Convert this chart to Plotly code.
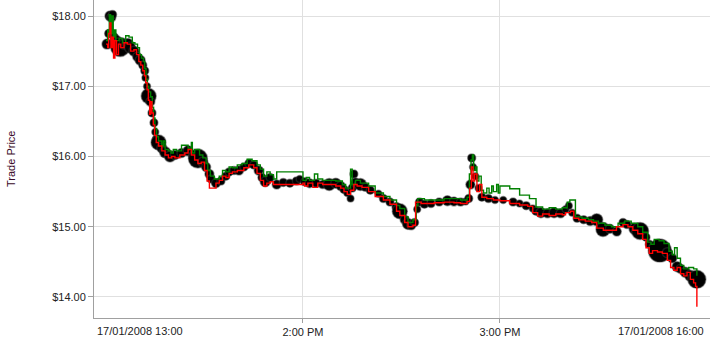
import pandas as pd
import plotly.graph_objects as go

# ---- data (minutes after 13:00 on 17/01/2008, price in $) ----
trade_min = [0.3, 0.8, 1.2, 1.6, 2.0, 2.5, 3.0, 4.3, 5.5, 6.7, 7.3, 8.5, 9.5, 10.4, 11.2, 11.8,
             12.0, 12.5, 13.0, 13.5, 14.0, 14.6, 15.0, 15.4, 16.0, 17.0, 18.0, 19.5, 21.0, 23.0,
             25.0, 27.0, 28.0, 29.5, 30.5, 31.5, 32.0, 33.5, 35.0, 36.5, 37.5, 39.0, 40.5, 42.0,
             43.5, 45.0, 46.5, 47.5, 48.5, 50.0, 52.0, 54.0, 56.0, 58.0, 59.0, 60.5, 62.0, 64.0,
             66.0, 68.0, 70.0, 71.5, 72.5, 73.5, 74.5, 75.0, 75.5, 76.0, 77.5, 79.0, 80.5, 83.0,
             84.5, 86.5, 88.5, 89.5, 91.0, 92.0, 93.0, 94.0, 94.8, 95.5, 97.0, 99.0, 101.5, 104.0,
             106.0, 108.0, 109.5, 110.5, 111.0, 111.4, 111.8, 112.5, 113.5, 114.5, 116.5, 118.5,
             121.0, 124.0, 126.0, 128.0, 130.0, 131.0, 132.5, 134.5, 136.5, 138.5, 140.0, 141.0,
             142.0, 143.5, 145.5, 147.5, 149.5, 151.4, 153.5, 155.6, 157.5, 158.7, 161.0, 162.7,
             164.5, 165.5, 167.0, 168.7, 171.0, 172.5, 174.0, 175.0, 176.5, 178.0, 180.0]
trade_price = [17.60, 17.75, 18.00, 17.98, 18.02, 17.70, 17.65, 17.56, 17.60, 17.60, 17.55, 17.50,
               17.42, 17.37, 17.30, 17.22, 17.12, 17.00, 16.86, 16.78, 16.62, 16.48, 16.35, 16.25,
               16.20, 16.12, 16.06, 16.00, 16.02, 16.05, 16.08, 16.00, 15.97, 15.92, 15.85, 15.75,
               15.68, 15.62, 15.65, 15.72, 15.78, 15.80, 15.80, 15.85, 15.90, 15.88, 15.80, 15.70,
               15.64, 15.70, 15.60, 15.63, 15.62, 15.65, 15.68, 15.64, 15.62, 15.62, 15.60, 15.60,
               15.62, 15.58, 15.53, 15.48, 15.40, 15.55, 15.75, 15.63, 15.60, 15.56, 15.52, 15.47,
               15.40, 15.35, 15.28, 15.22, 15.10, 15.04, 15.02, 15.06, 15.25, 15.35, 15.32, 15.33,
               15.35, 15.37, 15.36, 15.35, 15.36, 15.40, 15.60, 15.98, 15.85, 15.72, 15.55, 15.42,
               15.40, 15.38, 15.38, 15.35, 15.33, 15.30, 15.26, 15.22, 15.20, 15.19, 15.20, 15.19,
               15.25, 15.30, 15.20, 15.12, 15.10, 15.08, 15.10, 14.96, 14.97, 14.93, 15.06, 15.03,
               14.97, 14.94, 14.85, 14.75, 14.68, 14.66, 14.63, 14.55, 14.43, 14.40, 14.35, 14.30,
               14.25]
trade_size = [10, 8, 10, 9, 8, 8, 11, 19, 10, 11, 11, 10, 9, 10, 8, 8, 7, 7, 15, 9, 8, 8, 7, 8, 15,
              10, 11, 11, 9, 9, 10, 12, 19, 10, 9, 9, 8, 9, 8, 8, 8, 8, 9, 8, 8, 8, 9, 8, 10, 8, 9, 8,
              8, 8, 7, 8, 9, 8, 8, 12, 10, 9, 8, 7, 7, 8, 8, 9, 12, 8, 8, 7, 8, 8, 9, 15, 9, 11, 9, 8,
              7, 8, 8, 8, 8, 10, 9, 8, 7, 8, 9, 8, 7, 7, 7, 8, 8, 7, 7, 8, 7, 8, 7, 8, 10, 9, 10, 9, 7,
              7, 7, 8, 8, 9, 12, 14, 9, 9, 8, 8, 11, 17, 8, 8, 10, 23, 10, 9, 10, 9, 10, 11, 18]

ask_min = [0.0, 0.5, 0.8, 1.0, 1.4, 1.8, 2.2, 2.6, 3.0, 4.0, 5.0, 6.0, 7.0, 8.0, 8.8, 9.6, 10.2,
           10.8, 11.4, 11.8, 12.2, 12.6, 13.0, 13.6, 14.1, 14.5, 14.9, 15.4, 16.0, 17.0, 17.5, 18.0,
           19.0, 19.8, 20.5, 21.5, 23.0, 25.0, 26.0, 26.3, 27.0, 28.5, 29.5, 30.5, 31.0, 31.8, 33.0,
           34.5, 35.5, 36.5, 37.5, 38.5, 40.0, 41.5, 43.0, 44.5, 46.0, 47.0, 48.0, 49.0, 50.0, 51.0,
           52.0, 60.0, 61.0, 62.0, 63.5, 64.5, 66.0, 70.0, 72.0, 73.0, 74.5, 75.0, 76.0, 77.5, 80.0,
           82.0, 84.5, 86.5, 88.5, 89.5, 91.0, 92.0, 93.5, 94.5, 95.0, 97.0, 100.0, 103.0, 106.0,
           108.0, 110.0, 110.7, 111.2, 111.6, 112.0, 112.6, 113.0, 113.6, 114.3, 115.0, 116.0,
           116.7, 117.5, 118.0, 119.0, 119.5, 120.0, 123.0, 126.0, 129.0, 131.0, 133.0, 135.0,
           137.0, 139.0, 140.5, 141.3, 143.0, 145.0, 147.0, 148.5, 150.0, 152.0, 154.0, 156.0,
           158.0, 160.0, 162.0, 163.5, 165.0, 166.0, 167.0, 168.5, 170.0, 171.5, 172.5, 173.2,
           174.0, 175.0, 176.0, 177.5, 179.0, 180.0]
ask_price = [17.65, 17.80, 17.70, 18.02, 17.75, 18.00, 17.70, 17.80, 17.65, 17.68, 17.62, 17.72,
             17.70, 17.62, 17.60, 17.55, 17.45, 17.40, 17.35, 17.25, 17.10, 17.00, 16.92, 16.85,
             16.70, 16.55, 16.40, 16.28, 16.22, 16.15, 16.22, 16.10, 16.08, 16.05, 16.10, 16.08,
             16.16, 16.12, 16.20, 16.05, 16.10, 16.02, 15.98, 15.90, 15.80, 15.72, 15.68, 15.72,
             15.80, 15.78, 15.85, 15.84, 15.88, 15.90, 15.96, 15.94, 15.88, 15.82, 15.72, 15.78,
             15.74, 15.68, 15.78, 15.66, 15.70, 15.66, 15.75, 15.68, 15.66, 15.65, 15.60, 15.55,
             15.82, 15.60, 15.66, 15.62, 15.58, 15.48, 15.43, 15.38, 15.30, 15.26, 15.14, 15.06,
             15.10, 15.30, 15.40, 15.38, 15.38, 15.40, 15.40, 15.38, 15.42, 15.75, 15.95, 16.02,
             15.80, 15.85, 15.65, 15.72, 15.52, 15.48, 15.55, 15.48, 15.58, 15.50, 15.60, 15.48,
             15.58, 15.54, 15.45, 15.40, 15.28, 15.25, 15.27, 15.25, 15.27, 15.35, 15.38, 15.14,
             15.12, 15.10, 15.08, 15.05, 15.02, 15.00, 15.05, 15.08, 15.05, 15.00, 14.92, 14.78,
             14.75, 14.82, 14.80, 14.76, 14.65, 14.60, 14.70, 14.55, 14.45, 14.40, 14.42, 14.40,
             14.30]

bid_min = [0.0, 0.5, 0.8, 1.2, 1.5, 1.9, 2.3, 2.7, 3.2, 3.8, 4.5, 5.5, 6.5, 7.5, 8.5, 9.3, 10.0,
           10.6, 11.2, 11.7, 12.1, 12.5, 12.9, 13.3, 13.6, 14.0, 14.4, 14.8, 15.3, 16.0, 17.0, 18.0,
           19.0, 20.0, 21.0, 22.5, 24.0, 25.0, 26.0, 27.0, 28.0, 29.0, 30.0, 30.8, 31.5, 32.5, 33.5,
           34.5, 35.5, 36.5, 37.5, 38.5, 40.0, 42.0, 43.5, 45.0, 46.0, 47.0, 48.0, 49.0, 50.0, 51.0,
           60.0, 60.5, 61.5, 63.0, 64.5, 66.0, 70.0, 71.5, 72.5, 73.5, 74.5, 75.5, 76.5, 78.0, 80.0,
           82.0, 84.5, 86.5, 88.5, 89.5, 91.0, 92.0, 93.5, 94.3, 96.0, 100.0, 103.0, 106.0, 108.0,
           110.0, 110.8, 111.3, 111.8, 112.3, 113.0, 113.8, 114.5, 116.0, 118.0, 120.0, 123.0,
           126.0, 128.5, 130.0, 131.5, 133.0, 135.0, 137.0, 139.0, 140.0, 141.5, 142.5, 144.0,
           146.0, 148.0, 149.5, 151.5, 153.5, 155.5, 157.5, 159.0, 160.5, 162.0, 163.5, 164.5,
           165.5, 166.5, 168.0, 169.5, 171.0, 172.0, 173.0, 174.0, 175.0, 176.0, 177.0, 178.0,
           179.0, 179.6, 180.0]
bid_price = [17.60, 17.55, 17.75, 17.90, 17.55, 17.70, 17.40, 17.65, 17.45, 17.60, 17.55, 17.62,
             17.60, 17.50, 17.52, 17.45, 17.35, 17.30, 17.22, 17.15, 17.05, 16.95, 16.80, 16.60,
             16.78, 16.62, 16.45, 16.30, 16.20, 16.15, 16.08, 16.02, 15.98, 16.00, 15.98, 16.02,
             16.05, 16.10, 16.02, 15.95, 15.90, 15.92, 15.80, 15.65, 15.55, 15.55, 15.62, 15.66,
             15.72, 15.70, 15.76, 15.78, 15.80, 15.84, 15.88, 15.84, 15.76, 15.66, 15.58, 15.62,
             15.64, 15.60, 15.62, 15.58, 15.62, 15.56, 15.62, 15.60, 15.58, 15.55, 15.50, 15.46,
             15.52, 15.60, 15.58, 15.56, 15.50, 15.43, 15.38, 15.32, 15.22, 15.16, 15.06, 15.00,
             15.02, 15.35, 15.33, 15.34, 15.35, 15.34, 15.33, 15.36, 15.55, 15.85, 15.65, 15.75,
             15.50, 15.60, 15.42, 15.40, 15.38, 15.37, 15.33, 15.31, 15.29, 15.20, 15.15, 15.18,
             15.16, 15.18, 15.17, 15.20, 15.22, 15.12, 15.10, 15.08, 15.06, 14.98, 14.95, 14.95,
             15.00, 15.03, 15.00, 14.95, 14.90, 14.82, 14.70, 14.62, 14.66, 14.64, 14.62, 14.52,
             14.42, 14.38, 14.42, 14.33, 14.30, 14.35, 14.25, 14.20, 14.15, 13.86]

y_ticks = [14, 15, 16, 17, 18]
y_tick_text = ["$14.00", "$15.00", "$16.00", "$17.00", "$18.00"]
x_tick_text = ["2:00 PM", "3:00 PM"]
edge_labels = ["17/01/2008 13:00", "17/01/2008 16:00"]

base = pd.Timestamp("2008-01-17 13:00:00")


def to_time(mins):
    return [base + pd.Timedelta(minutes=m) for m in mins]


FONT = "Liberation Sans, Arial, sans-serif"

fig = go.Figure()
fig.add_trace(go.Scatter(
    x=to_time(trade_min), y=trade_price, mode="markers",
    marker=dict(size=trade_size, color="#000000", opacity=1,
                line=dict(color="rgba(60,60,60,0.45)", width=1.5)),
    showlegend=False, hoverinfo="skip"))
fig.add_trace(go.Scatter(
    x=to_time(ask_min), y=ask_price, mode="lines", line_shape="hv",
    line=dict(color="#008000", width=1.4), showlegend=False))
fig.add_trace(go.Scatter(
    x=to_time(bid_min), y=bid_price, mode="lines", line_shape="hv",
    line=dict(color="#ff0000", width=1.4), showlegend=False))

fig.update_layout(
    width=710, height=344,
    margin=dict(l=94, r=0, t=0, b=26),
    paper_bgcolor="white", plot_bgcolor="white",
    font=dict(family=FONT, size=11, color="#222222"),
    xaxis=dict(
        type="date",
        range=[base + pd.Timedelta(minutes=-3.66), base + pd.Timedelta(minutes=184.0)],
        tickvals=to_time([60, 120]), ticktext=x_tick_text,
        showgrid=True, gridcolor="#e0e0e0", gridwidth=1,
        showline=True, linecolor="#a0a0a0", linewidth=1,
        ticks="outside", ticklen=4, tickcolor="#a0a0a0",
        zeroline=False, tickfont=dict(size=11, color="#222222"),
    ),
    yaxis=dict(
        range=[13.70, 18.228],
        tickvals=y_ticks, ticktext=y_tick_text,
        showgrid=True, gridcolor="#e0e0e0", gridwidth=1,
        showline=True, linecolor="#a0a0a0", linewidth=1,
        ticks="outside", ticklen=5, tickcolor="#a0a0a0",
        zeroline=False, tickfont=dict(size=11, color="#222222"),
    ),
    annotations=[
        dict(text=edge_labels[0], xref="paper", yref="paper", x=0, y=0,
             xanchor="left", yanchor="top", xshift=1, yshift=-5, showarrow=False,
             font=dict(size=11, color="#222222")),
        dict(text=edge_labels[1], xref="paper", yref="paper", x=1, y=0,
             xanchor="right", yanchor="top", xshift=-4, yshift=-5, showarrow=False,
             font=dict(size=11, color="#222222")),
        dict(text="Trade Price", xref="paper", yref="paper", x=0, y=0.5,
             xanchor="center", yanchor="middle", xshift=-83, showarrow=False,
             textangle=-90, font=dict(size=11, color="#3a0a28")),
    ],
)

fig.write_html("out.html")
